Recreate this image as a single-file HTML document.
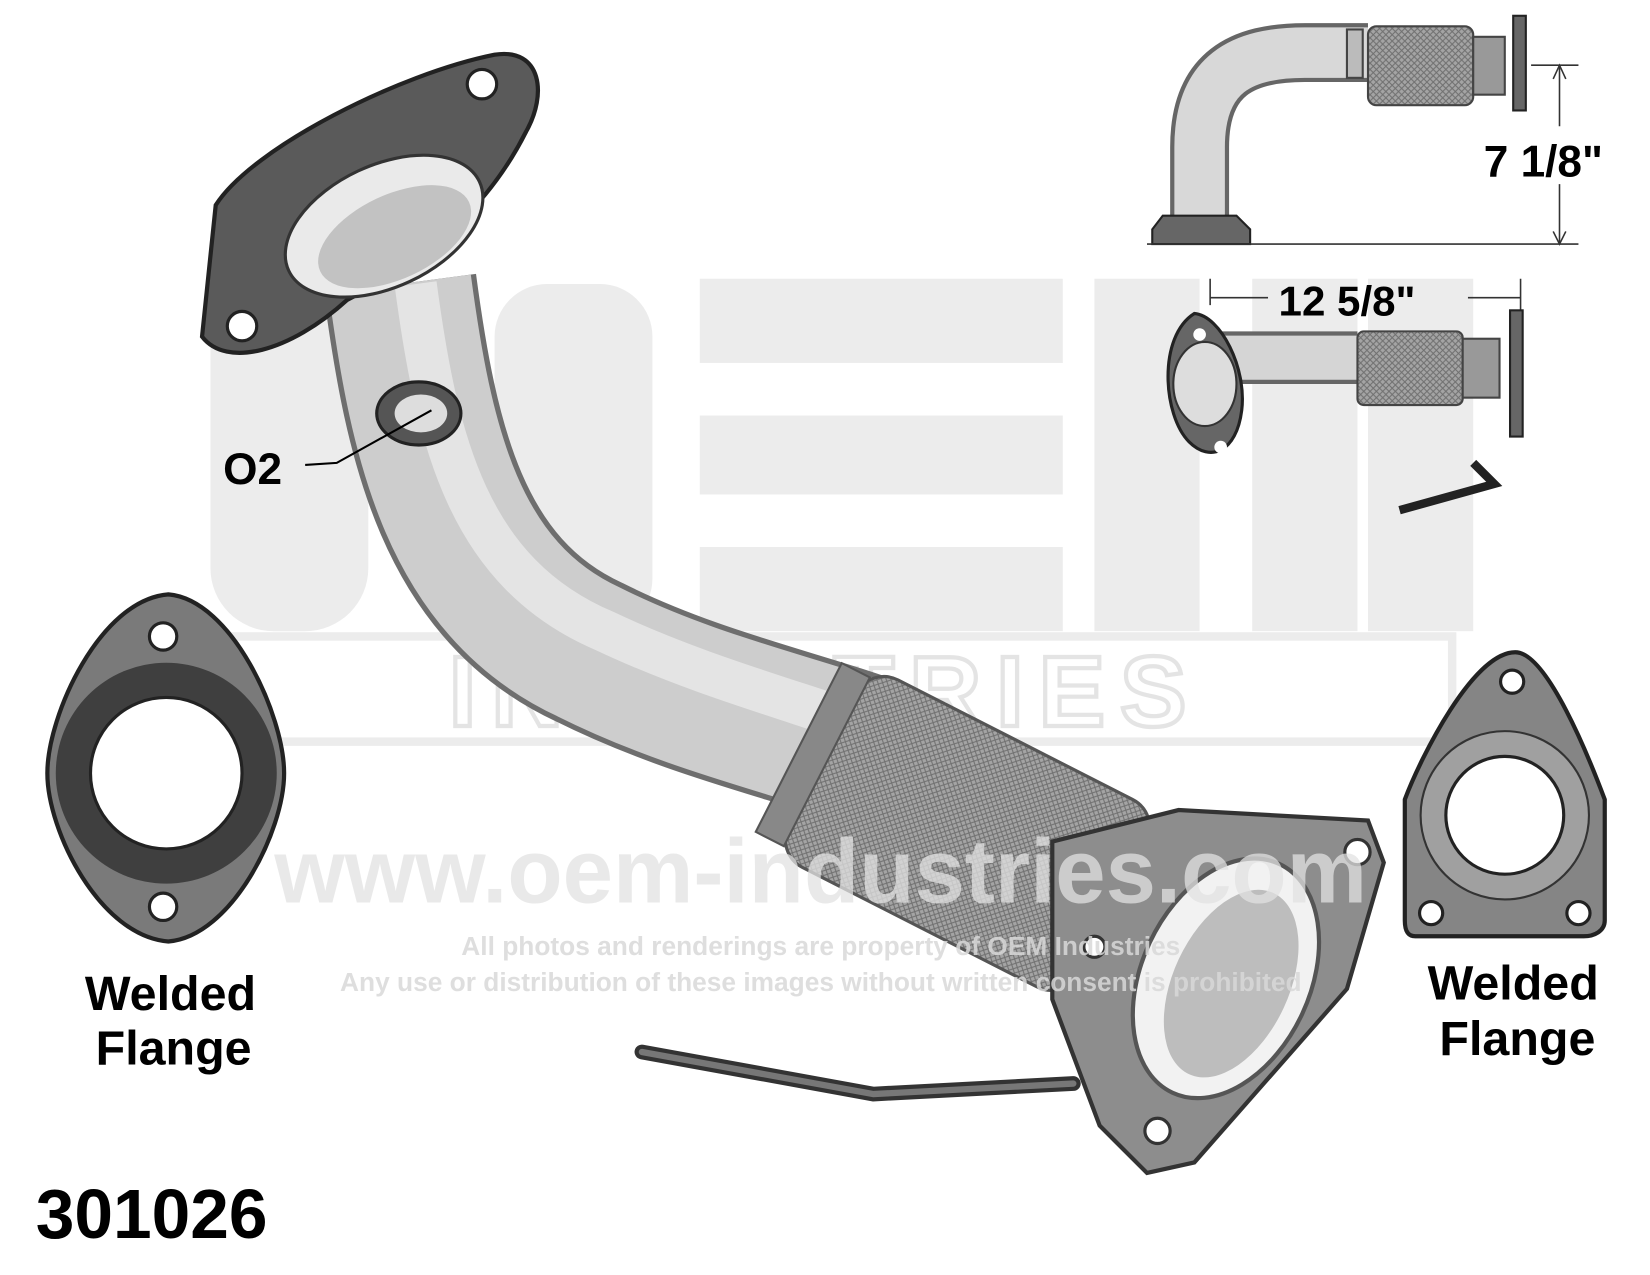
<!DOCTYPE html>
<html><head><meta charset="utf-8"><style>
html,body{margin:0;padding:0;background:#fff;}
svg{display:block;}
text{font-family:"Liberation Sans",Arial,sans-serif;font-weight:bold;}
</style></head><body>
<svg width="1650" height="1275" viewBox="0 0 1568 1212" preserveAspectRatio="none" xmlns="http://www.w3.org/2000/svg">
<defs>
<pattern id="mesh" width="6" height="6" patternUnits="userSpaceOnUse">
<rect width="6" height="6" fill="#a4a4a4"/><path d="M0 0L6 6M6 0L0 6" stroke="#707070" stroke-width="1"/></pattern>
</defs>
<!-- watermark -->
<g fill="#ececec">
<rect x="200" y="270" width="150" height="330" rx="60"/>
<rect x="470" y="270" width="150" height="330" rx="50"/>
<rect x="665" y="265" width="345" height="80"/>
<rect x="665" y="395" width="345" height="75"/>
<rect x="665" y="520" width="345" height="80"/>
<rect x="1040" y="265" width="100" height="335"/>
<rect x="1190" y="265" width="100" height="335"/>
<rect x="1300" y="265" width="100" height="335"/>
<rect x="215" y="605" width="1165" height="100" fill="none" stroke="#ececec" stroke-width="8"/>
</g>
<text x="784" y="690" font-size="95" fill="none" stroke="#e4e4e4" stroke-width="4" text-anchor="middle" letter-spacing="14">INDUSTRIES</text>

<!-- main pipe -->
<path d="M380 270 C400 420 430 560 560 620 C660 670 760 690 840 720" stroke="#6e6e6e" stroke-width="146" fill="none"/>
<path d="M380 270 C400 420 430 560 560 620 C660 670 760 690 840 720" stroke="#cdcdcd" stroke-width="136" fill="none"/>
<path d="M395 270 C415 420 445 545 575 600 C670 645 770 670 850 700" stroke="#e4e4e4" stroke-width="40" fill="none"/>
<!-- flex -->
<g transform="rotate(27 915 790)">
<rect x="765" y="690" width="310" height="200" rx="30" fill="url(#mesh)" stroke="#555" stroke-width="3"/>
<rect x="740" y="700" width="30" height="180" fill="#888" stroke="#555" stroke-width="2"/>
</g>
<!-- lower flange -->
<path d="M1000 800 L1120 770 L1300 780 L1315 820 L1280 940 L1135 1105 L1090 1115 L1045 1070 L1000 950 Z" fill="#8d8d8d" stroke="#333" stroke-width="4"/>
<ellipse cx="1165" cy="930" rx="80" ry="120" transform="rotate(25 1165 930)" fill="#f2f2f2" stroke="#555" stroke-width="4"/>
<ellipse cx="1170" cy="935" rx="55" ry="95" transform="rotate(25 1170 935)" fill="#bdbdbd"/>
<circle cx="1290" cy="810" r="12" fill="#fff" stroke="#333" stroke-width="3"/>
<circle cx="1100" cy="1075" r="12" fill="#fff" stroke="#333" stroke-width="3"/>
<circle cx="1040" cy="900" r="10" fill="#fff" stroke="#333" stroke-width="3"/>
<!-- rod -->
<path d="M610 1000 L830 1040 L1020 1030" stroke="#333" stroke-width="14" fill="none" stroke-linecap="round"/>
<path d="M610 1000 L830 1040 L1020 1030" stroke="#777" stroke-width="6" fill="none" stroke-linecap="round"/>
<!-- top flange -->
<path d="M205 195 C240 140 380 70 470 52 C515 45 520 90 500 125 C470 185 420 240 330 285 C275 335 215 350 192 320 Z" fill="#5a5a5a" stroke="#222" stroke-width="4"/>
<ellipse cx="365" cy="215" rx="100" ry="58" transform="rotate(-25 365 215)" fill="#eaeaea" stroke="#333" stroke-width="3"/>
<ellipse cx="375" cy="225" rx="78" ry="40" transform="rotate(-25 375 225)" fill="#c2c2c2"/>
<circle cx="458" cy="80" r="14" fill="#fff" stroke="#222" stroke-width="3"/>
<circle cx="230" cy="310" r="14" fill="#fff" stroke="#222" stroke-width="3"/>
<!-- O2 boss -->
<ellipse cx="398" cy="393" rx="40" ry="30" fill="#555" stroke="#222" stroke-width="3"/>
<ellipse cx="400" cy="393" rx="25" ry="18" fill="#ddd"/>
<path d="M290 442 L320 440 L410 390" stroke="#000" stroke-width="2" fill="none"/>
<text x="212" y="460" font-size="42" fill="#000">O2</text>

<!-- watermark text overlay -->
<text x="780" y="858" font-size="86" fill="#e2e2e2" fill-opacity="0.75" text-anchor="middle">www.oem-industries.com</text>
<text x="780" y="908" font-size="25" fill="#d8d8d8" fill-opacity="0.85" text-anchor="middle">All photos and renderings are property of OEM Industries</text>
<text x="780" y="942" font-size="25" fill="#d8d8d8" fill-opacity="0.85" text-anchor="middle">Any use or distribution of these images without written consent is prohibited</text>

<!-- left welded flange -->
<path d="M160 565 C220 570 270 680 270 735 C270 790 220 890 160 895 C95 890 45 790 45 735 C45 680 95 570 160 565 Z" fill="#7a7a7a" stroke="#222" stroke-width="4"/>
<circle cx="158" cy="735" r="105" fill="#3f3f3f"/>
<circle cx="158" cy="735" r="72" fill="#fff" stroke="#222" stroke-width="3"/>
<circle cx="155" cy="605" r="13" fill="#fff" stroke="#222" stroke-width="3"/>
<circle cx="155" cy="862" r="13" fill="#fff" stroke="#222" stroke-width="3"/>
<text x="162" y="960" font-size="46" fill="#000" text-anchor="middle">Welded</text>
<text x="165" y="1012" font-size="46" fill="#000" text-anchor="middle">Flange</text>

<!-- right welded flange -->
<path d="M1440 620 C1470 620 1510 720 1525 760 L1525 875 C1525 885 1515 890 1505 890 L1345 890 C1338 890 1335 885 1335 875 L1335 760 C1350 720 1400 620 1440 620 Z" fill="#858585" stroke="#222" stroke-width="4"/>
<circle cx="1430" cy="775" r="80" fill="#a0a0a0" stroke="#333" stroke-width="2"/>
<circle cx="1430" cy="775" r="56" fill="#fff" stroke="#222" stroke-width="3"/>
<circle cx="1437" cy="648" r="11" fill="#fff" stroke="#222" stroke-width="3"/>
<circle cx="1360" cy="868" r="11" fill="#fff" stroke="#222" stroke-width="3"/>
<circle cx="1500" cy="868" r="11" fill="#fff" stroke="#222" stroke-width="3"/>
<text x="1438" y="950" font-size="46" fill="#000" text-anchor="middle">Welded</text>
<text x="1442" y="1003" font-size="46" fill="#000" text-anchor="middle">Flange</text>

<text x="34" y="1177" font-size="66" fill="#000">301026</text>

<!-- top right side view -->
<path d="M1140 210 L1140 140 C1140 70 1180 50 1240 50 L1300 50" stroke="#666" stroke-width="56" fill="none"/>
<path d="M1140 210 L1140 140 C1140 70 1180 50 1240 50 L1300 50" stroke="#d8d8d8" stroke-width="48" fill="none"/>
<rect x="1280" y="28" width="15" height="46" fill="#bbb" stroke="#444" stroke-width="2"/>
<rect x="1300" y="25" width="100" height="75" rx="8" fill="url(#mesh)" stroke="#444" stroke-width="2"/>
<rect x="1400" y="35" width="30" height="55" fill="#999" stroke="#444" stroke-width="2"/>
<rect x="1438" y="15" width="12" height="90" fill="#666" stroke="#222" stroke-width="2"/>
<path d="M1095 218 L1105 205 L1175 205 L1188 218 L1188 232 L1095 232 Z" fill="#666" stroke="#222" stroke-width="2"/>
<path d="M1090 232 L1500 232" stroke="#333" stroke-width="1.5"/>
<path d="M1455 62 L1500 62 M1482 62 L1482 120 M1482 175 L1482 232" stroke="#333" stroke-width="1.5"/>
<path d="M1476 75 L1482 62 L1488 75 M1476 220 L1482 232 L1488 220" stroke="#333" stroke-width="1.5" fill="none"/>
<text x="1410" y="168" font-size="42" fill="#000">7 1/8"</text>

<!-- middle right top view -->
<path d="M1150 265 L1150 290 M1150 283 L1205 283 M1395 283 L1445 283 M1445 265 L1445 300" stroke="#333" stroke-width="1.5"/>
<text x="1215" y="300" font-size="40" fill="#000">12 5/8"</text>
<path d="M1160 340 L1290 340" stroke="#666" stroke-width="50"/>
<path d="M1160 340 L1290 340" stroke="#d5d5d5" stroke-width="42"/>
<rect x="1290" y="315" width="100" height="70" rx="6" fill="url(#mesh)" stroke="#444" stroke-width="2"/>
<rect x="1390" y="322" width="35" height="56" fill="#999" stroke="#444" stroke-width="2"/>
<rect x="1435" y="295" width="12" height="120" fill="#666" stroke="#222" stroke-width="2"/>
<path d="M1135 298 C1160 300 1185 350 1180 390 C1175 430 1150 440 1130 420 C1105 395 1100 320 1135 298 Z" fill="#666" stroke="#222" stroke-width="3"/>
<ellipse cx="1145" cy="365" rx="30" ry="40" fill="#ddd" stroke="#333" stroke-width="2"/>
<circle cx="1140" cy="318" r="6" fill="#fff"/><circle cx="1160" cy="425" r="6" fill="#fff"/>
<path d="M1330 485 L1420 460 L1400 440" stroke="#222" stroke-width="8" fill="none"/>
</svg>
</body></html>
